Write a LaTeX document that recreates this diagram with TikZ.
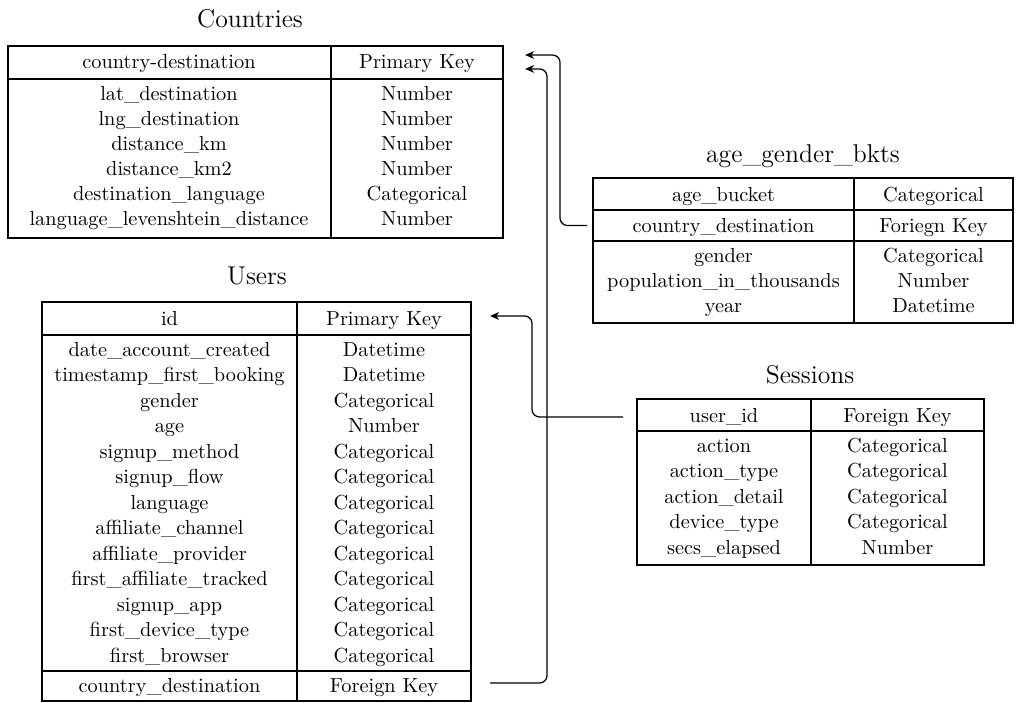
\documentclass[tikz,border=0pt]{standalone}
\usetikzlibrary{arrows.meta}
% a boxed table row: name, x1, y1, x2, y2 (in picture units)
\newcommand\tablebox[5]{%
  \node[tbl, minimum width={(#4-#2)*0.467pt}, minimum height={(#5-#3)*0.467pt}]
    (#1) at ({(#2+#4)/2},{(#3+#5)/2}) {};}
\begin{document}
\begin{tikzpicture}[x=0.467pt,y=-0.467pt,
  tbl/.style={draw, line width=0.9pt, inner sep=0pt, outer sep=0pt},
  rule/.style={line width=0.9pt},
  cell/.style={inner sep=0pt, font=\fontsize{9.5}{11.4}\selectfont,
    text height=6.2pt, text depth=1.4pt},
  title/.style={inner sep=0pt, font=\large, text height=8pt, text depth=2pt},
  link/.style={-{Stealth[length=4.2pt,width=3.6pt,inset=1.3pt]},
    line width=0.6pt, rounded corners=3.5pt}]
\useasboundingbox (0,0) rectangle (1016,702);

% ---------------- Countries ----------------
\node[title] (ctytitle) at (250,21) {Countries};
\tablebox{ctykey}{8}{46}{503}{79}
\tablebox{ctybody}{8}{79}{503}{238}
\draw[rule] (331,46) -- (331,238);
\node[cell] (ctykL) at (169,63) {country-destination};
\node[cell] (ctykR) at (417,63) {Primary Key};
\foreach \l/\r [count=\k] in {lat\_destination/Number, lng\_destination/Number,
    distance\_km/Number, distance\_km2/Number,
    destination\_language/Categorical, language\_levenshtein\_distance/Number}{
  \node[cell] (ctyL\k) at (169,{95+(\k-1)*25}) {\l};
  \node[cell] (ctyR\k) at (417,{95+(\k-1)*25}) {\r};
}

% ---------------- Users ----------------
\node[title] (usrtitle) at (257,278) {Users};
\tablebox{usrkey}{42}{302}{471}{335}
\tablebox{usrbody}{42}{335}{471}{671}
\tablebox{usrfk}{42}{671}{471}{701}
\draw[rule] (297,302) -- (297,701);
\node[cell] (usrkL) at (169.5,320) {id};
\node[cell] (usrkR) at (384,320) {Primary Key};
\foreach \l/\r [count=\k] in {date\_account\_created/Datetime,
    timestamp\_first\_booking/Datetime, gender/Categorical, age/Number,
    signup\_method/Categorical, signup\_flow/Categorical, language/Categorical,
    affiliate\_channel/Categorical, affiliate\_provider/Categorical,
    first\_affiliate\_tracked/Categorical, signup\_app/Categorical,
    first\_device\_type/Categorical, first\_browser/Categorical}{
  \node[cell] (usrL\k) at (169.5,{351+(\k-1)*25.5}) {\l};
  \node[cell] (usrR\k) at (384,{351+(\k-1)*25.5}) {\r};
}
\node[cell] (usrfL) at (169.5,687) {country\_destination};
\node[cell] (usrfR) at (384,687) {Foreign Key};

% ---------------- age_gender_bkts ----------------
\node[title] (agbtitle) at (803,156) {age\_gender\_bkts};
\tablebox{agbkey}{593}{178}{1013}{210}
\tablebox{agbfk}{593}{210}{1013}{241}
\tablebox{agbbody}{593}{241}{1013}{323}
\draw[rule] (854,178) -- (854,323);
\node[cell] (agbkL) at (723.5,196) {age\_bucket};
\node[cell] (agbkR) at (933.5,196) {Categorical};
\node[cell] (agbfL) at (723.5,227) {country\_destination};
\node[cell] (agbfR) at (933.5,227) {Foriegn Key};
\foreach \l/\r [count=\k] in {gender/Categorical,
    population\_in\_thousands/Number, year/Datetime}{
  \node[cell] (agbL\k) at (723.5,{257+(\k-1)*25}) {\l};
  \node[cell] (agbR\k) at (933.5,{257+(\k-1)*25}) {\r};
}

% ---------------- Sessions ----------------
\node[title] (sestitle) at (810,377) {Sessions};
\tablebox{seskey}{637}{399}{984}{431}
\tablebox{sesbody}{637}{431}{984}{565}
\draw[rule] (811,399) -- (811,565);
\node[cell] (seskL) at (724,417) {user\_id};
\node[cell] (seskR) at (897.5,417) {Foreign Key};
\foreach \l/\r [count=\k] in {action/Categorical, action\_type/Categorical,
    action\_detail/Categorical, device\_type/Categorical, secs\_elapsed/Number}{
  \node[cell] (sesL\k) at (724,{447+(\k-1)*25.5}) {\l};
  \node[cell] (sesR\k) at (897.5,{447+(\k-1)*25.5}) {\r};
}

% ---------------- key links ----------------
\coordinate (j1) at (560,0);
\coordinate (j2) at (547,0);
\coordinate (j3) at (532,0);

\coordinate (s1) at ([xshift=-2.8pt]agbfk.west);
\coordinate (e1) at ([xshift=10.3pt,yshift=3.5pt]ctykey.east);
\draw[link] (s1) -- (s1 -| j1) -- (e1 -| j1) -- (e1);

\coordinate (s2) at ([xshift=8.9pt,yshift=1.4pt]usrfk.east);
\coordinate (e2) at ([xshift=10.3pt,yshift=-3pt]ctykey.east);
\draw[link] (s2) -- (s2 -| j2) -- (e2 -| j2) -- (e2);

\coordinate (s3) at ([xshift=-6.5pt,yshift=-0.9pt]seskey.west);
\coordinate (e3) at ([xshift=8.9pt,yshift=1.2pt]usrkey.east);
\draw[link] (s3) -- (s3 -| j3) -- (e3 -| j3) -- (e3);
\end{tikzpicture}
\end{document}
